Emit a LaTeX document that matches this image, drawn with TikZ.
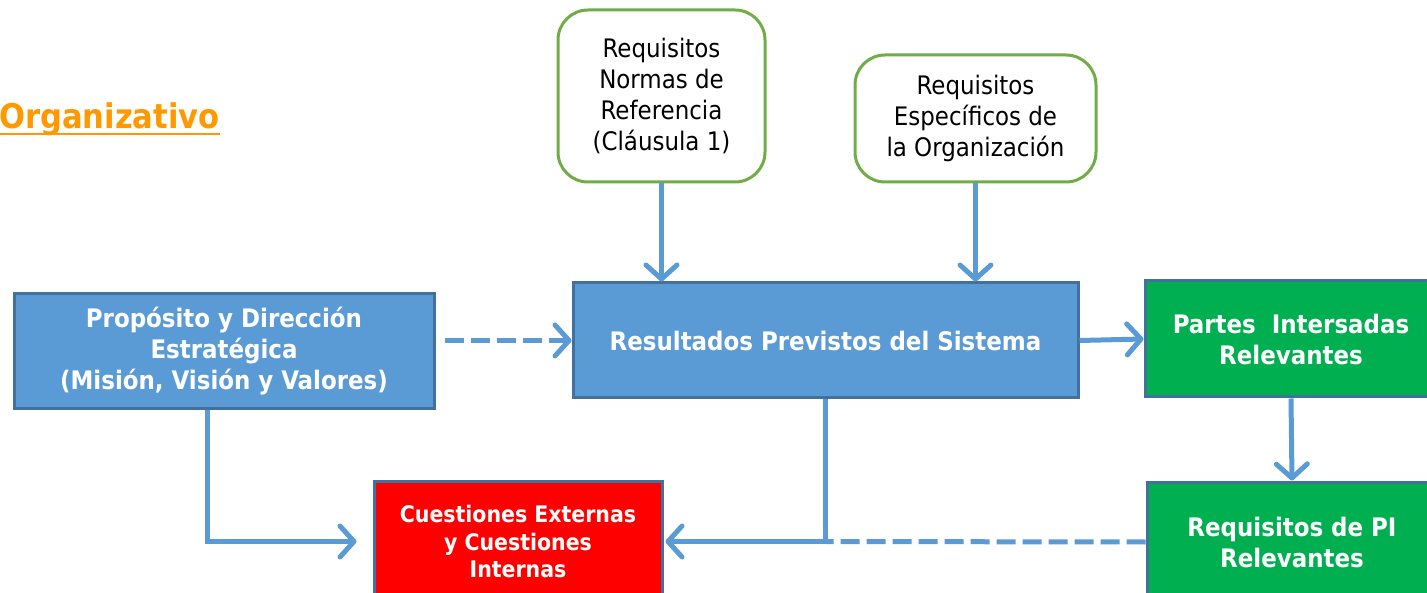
\documentclass[tikz,border=0pt]{standalone}
\usepackage{fontspec}
\setmainfont{DejaVu Sans Condensed}
\usetikzlibrary{arrows.meta}
\definecolor{bluefill}{HTML}{5B9BD5}
\definecolor{blueedge}{HTML}{41719C}
\definecolor{greenfill}{HTML}{00B050}
\definecolor{greenedge}{HTML}{70AD47}
\definecolor{orangeT}{HTML}{FF9900}
\definecolor{redfill}{HTML}{FF0000}
\begin{document}
\begin{tikzpicture}[x=1pt,y=-1pt,
  boxbase/.style={draw=blueedge, line width=3pt, text=white, align=center, inner sep=0pt,
    font=\fontsize{25.5}{31}\selectfont\bfseries},
  bluebox/.style={boxbase, fill=bluefill},
  greenbox/.style={boxbase, fill=greenfill},
  redbox/.style={boxbase, fill=redfill, font=\fontsize{22.8}{27.5}\selectfont\bfseries},
  reqbox/.style={draw=greenedge, line width=3pt, fill=white, rounded corners=30pt, align=center,
    inner sep=0pt, font=\fontsize{25.5}{30.8}\selectfont},
  conn/.style={draw=bluefill, line width=5pt, -{Straight Barb[length=14pt, width=31pt, round]}},
  dashline/.style={draw=bluefill, line width=5pt, dash pattern=on 19pt off 7pt}
]
\useasboundingbox (0,0) rectangle (1427,593);
\clip (0,0) rectangle (1427,593);

\node[anchor=base west, text=orangeT, font=\fontsize{34}{40}\selectfont\bfseries, inner sep=0pt]
  (title) at (-1,129) {Organizativo};
\draw[orangeT, line width=2.6pt] ([yshift=-5]title.base west) -- ([yshift=-5]title.base east);

\node[reqbox, minimum width=207, minimum height=172] (r1) at (661.5,96)
  {Requisitos\\Normas de\\Referencia\\(Cláusula 1)};
\node[reqbox, minimum width=241, minimum height=127] (r2) at (975.5,118.5)
  {Requisitos\\Específicos de\\la Organización};

\node[bluebox, minimum width=420, minimum height=115] (prop) at (224,351.5)
  {Propósito y Dirección\\Estratégica\\(Misión, Visión y Valores)};
\node[bluebox, minimum width=505, minimum height=115] (res) at (825.5,340.5)
  {Resultados Previstos del Sistema};
\node[greenbox, minimum width=292, minimum height=116] (partes) at (1291,339)
  {Partes\ \ Intersadas\\Relevantes};
\node[greenbox, minimum width=290, minimum height=120] (reqpi) at (1292,542)
  {Requisitos de PI\\Relevantes};
\node[redbox, minimum width=288, minimum height=120] (cuest) at (518,541.5)
  {Cuestiones Externas\\y Cuestiones\\Internas};

\coordinate (dstart) at ([xshift=9]prop.east |- res.west);
\coordinate (pturn) at ([xshift=-17]prop.south);
\coordinate (cin) at ([xshift=-16]cuest.west);

\draw[conn] (r1.south) -- (r1.south |- res.north);
\draw[conn] (r2.south) -- (r2.south |- res.north);
\draw[dashline, -{Straight Barb[length=14pt, width=31pt, round]}] (dstart) -- (res.west);
\draw[conn] (res.east) -- (partes.west);
\draw[conn] (partes.south) -- (reqpi.north);
\draw[conn] (pturn) |- (cin);
\draw[dashline] (reqpi.west) -- (res.south |- cuest.east);
\draw[conn] (res.south) |- ([xshift=2]cuest.east);
\end{tikzpicture}
\end{document}
